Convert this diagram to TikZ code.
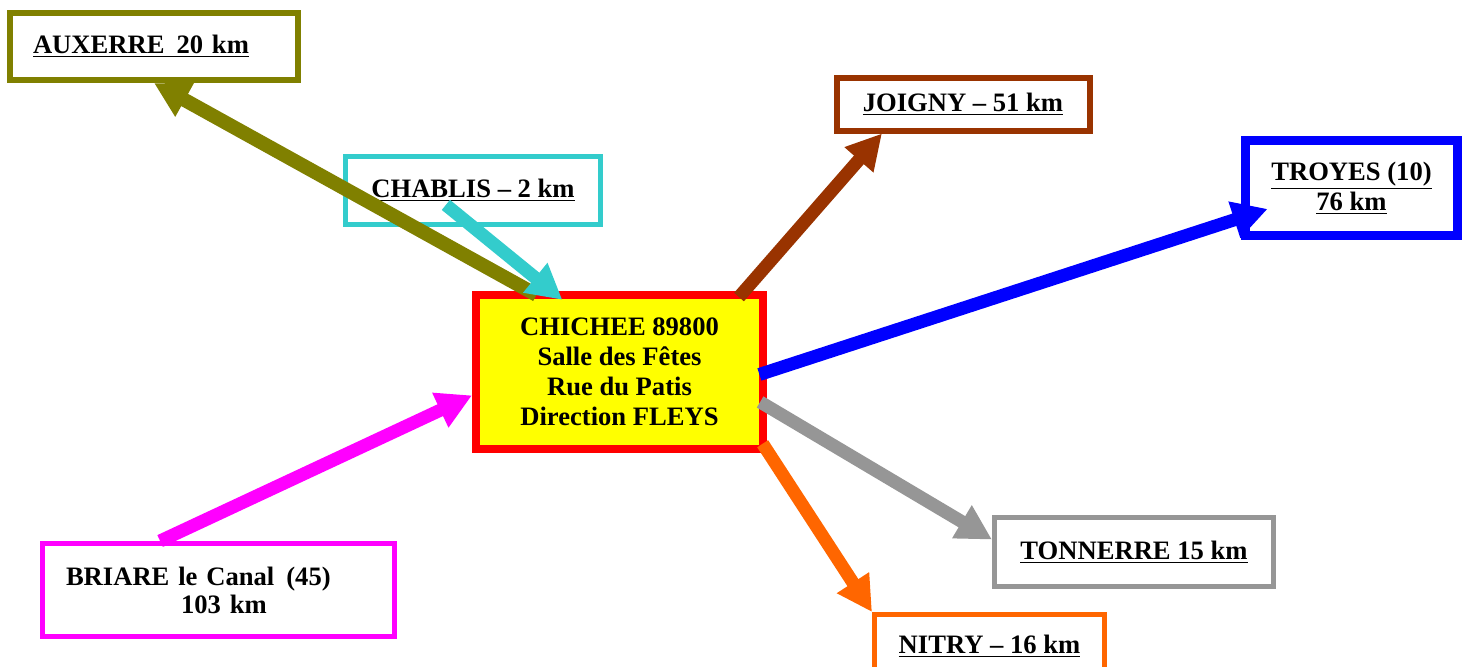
\documentclass[tikz,border=0pt]{standalone}
\usepackage{fontspec}
\setmainfont{Liberation Serif}
\usetikzlibrary{arrows.meta}
\definecolor{hallfill}{RGB}{255,255,0}
\definecolor{hallline}{RGB}{255,0,0}
\definecolor{auxerre}{RGB}{128,128,0}
\definecolor{chablis}{RGB}{51,204,204}
\definecolor{joigny}{RGB}{153,51,0}
\definecolor{troyes}{RGB}{0,0,255}
\definecolor{briare}{RGB}{255,0,255}
\definecolor{tonnerre}{RGB}{150,150,150}
\definecolor{nitry}{RGB}{255,102,0}
\tikzset{town/.style={draw,line width=2.5pt,inner sep=0pt,align=center,
  font=\bfseries\fontsize{13.3}{15}\selectfont},
 road/.style={line width=6.5pt,-{Triangle[length=17.5pt,width=18pt]},shorten <=-4pt}}

\begin{document}
\begin{tikzpicture}[x=0.5pt,y=-0.5pt]
\useasboundingbox (0,0) rectangle (1465,666);
\node[town,draw=hallline,fill=hallfill,line width=4pt,minimum width=143.5pt,minimum height=77pt] (hall) at (619.5,372) {CHICHEE 89800\\Salle des Fêtes\\Rue du Patis\\Direction FLEYS};
\node[town,draw=auxerre,line width=3pt,minimum width=144pt,minimum height=33.5pt,align=left,text width=121pt,inner xsep=11.5pt] (aux) at (154,46.5) {\underline{AUXERRE\hspace{6pt}20 km}};
\node[town,draw=chablis,minimum width=127.5pt,minimum height=34pt] (chab) at (473,190.5) {\underline{CHABLIS – 2 km}};
\node[town,draw=joigny,line width=3pt,minimum width=126.5pt,minimum height=26.5pt] (joi) at (963,104) {\underline{JOIGNY – 51 km}};
\node[town,draw=troyes,line width=4.5pt,minimum width=106pt,minimum height=47.5pt] (troy) at (1351.5,188) {\underline{TROYES (10)}\\\underline{76 km}};
\node[town,draw=briare,minimum width=176pt,minimum height=46.5pt,align=left,text width=152.5pt,inner xsep=11.75pt,font=\bfseries\fontsize{13.3}{14}\selectfont] (bri) at (218.5,590) {BRIARE le Canal\hspace{6pt}(45)\\\hspace*{57.5pt}103 km};
\node[town,draw=tonnerre,minimum width=139.5pt,minimum height=34.5pt] (ton) at (1134,552) {\underline{TONNERRE 15 km}};
\node[town,draw=nitry,minimum width=115pt,minimum height=31.5pt] (nit) at (989.5,646) {\underline{NITRY – 16 km}};
% roads
\draw[road,line width=7pt,draw=auxerre,fill=auxerre] (hall.138) -- (aux.south);
\draw[road,draw=chablis,fill=chablis,shorten <=-17.5pt,shorten >=-7pt] (chab.south) -- (hall.130);
\draw[road,draw=joigny,fill=joigny] (hall.33) -- (joi.200);
\draw[road,draw=troyes,fill=troyes,shorten >=-14pt] (hall.east) -- (troy.195);
\draw[road,draw=briare,fill=briare,shorten <=0pt] (bri.140) -- (hall.189);
\draw[road,draw=tonnerre,fill=tonnerre] (hall.-13) -- (ton.175);
\draw[road,draw=nitry,fill=nitry] (hall.-28) -- (nit.north west);
\end{tikzpicture}
\end{document}
